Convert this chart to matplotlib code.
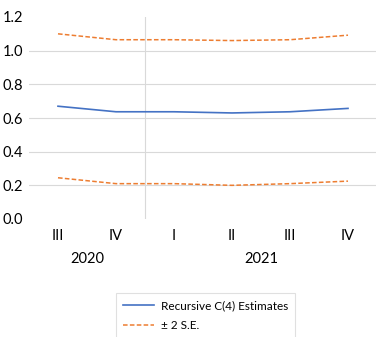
import matplotlib as mpl
import matplotlib.pyplot as plt
import numpy as np

# quarters 2020Q3 .. 2021Q4
quarters = ['III', 'IV', 'I', 'II', 'III', 'IV']
years = ['2020', '2021']
year_span = [(0, 1), (2, 5)]

estimate = [0.670, 0.637, 0.637, 0.630, 0.637, 0.657]
upper = [1.100, 1.065, 1.065, 1.060, 1.065, 1.092]
lower = [0.245, 0.210, 0.210, 0.200, 0.210, 0.225]

mpl.rc('font', family=['Lato', 'DejaVu Sans'])

W, H = 376, 337
fig = plt.figure(figsize=(W / 100, H / 100), dpi=100)
ax = fig.add_axes([29 / W, (H - 219) / H, 348 / W, 202 / H])

x = np.arange(len(quarters))
blue = '#4472C4'
orange = '#ED7D31'

ax.plot(x, estimate, color=blue, lw=1.2, label='Recursive C(4) Estimates')
ax.plot(x, upper, color=orange, lw=1.1, ls=(0, (3, 1.5)), label='± 2 S.E.')
ax.plot(x, lower, color=orange, lw=1.1, ls=(0, (3, 1.5)))

ax.set_xlim(-0.5, len(quarters) - 0.5)
ax.set_ylim(0, 1.2)
ax.set_yticks(np.arange(0, 1.21, 0.2))
ax.set_yticklabels(['%.1f' % v for v in np.arange(0, 1.21, 0.2)], fontsize=10.5)
for v in np.arange(0.2, 1.01, 0.2):
    ax.axhline(v, color='#D9D9D9', lw=0.8, zorder=0)
ax.axvline(1.5, color='#D9D9D9', lw=0.8, zorder=0)

ax.set_xticks(x)
ax.set_xticklabels(quarters, fontsize=10.5)
ax.tick_params(length=0, pad=7)
ax.tick_params(axis='y', pad=4)
for s in ax.spines.values():
    s.set_visible(False)

for yr, (a, b) in zip(years, year_span):
    ax.text((a + b) / 2, -0.2, yr, ha='center', va='center', fontsize=10.5,
            transform=ax.get_xaxis_transform())

leg = fig.legend(loc='upper left', bbox_to_anchor=(110 / W, 1 - 287 / H), fontsize=8.5,
                 frameon=True, fancybox=False, edgecolor='#D9D9D9', handlelength=2.6,
                 borderpad=0.6, labelspacing=0.75, handletextpad=0.6)
leg.get_frame().set_linewidth(0.8)

fig.savefig('out.png', dpi=100)
